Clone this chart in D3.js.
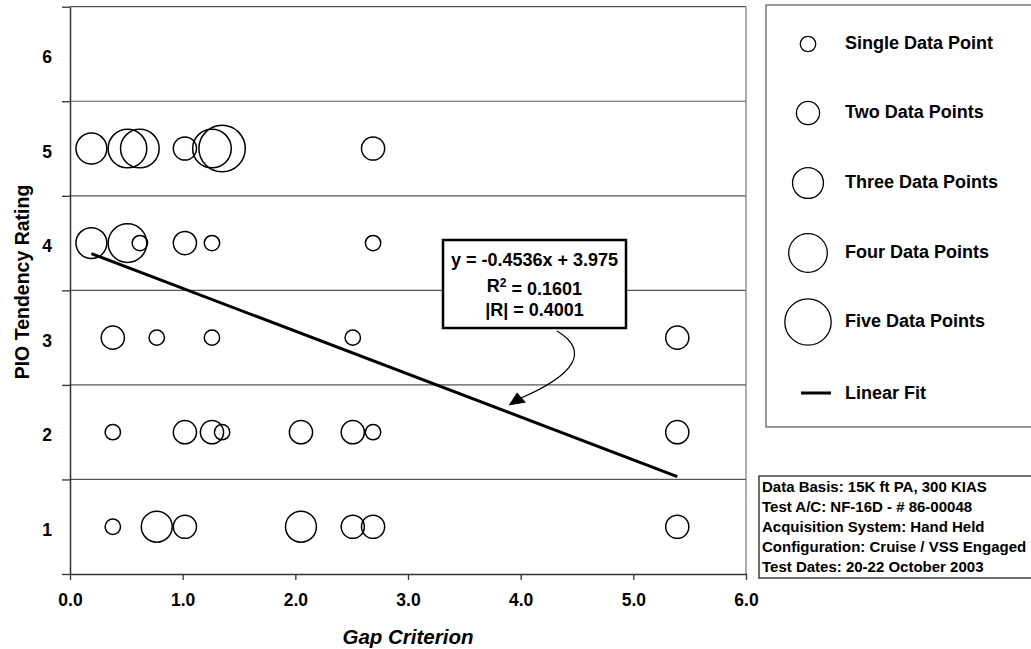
<!DOCTYPE html>
<html>
<head>
<meta charset="utf-8">
<script src="https://cdn.jsdelivr.net/npm/d3@7"></script>
<style>
  html, body { margin: 0; padding: 0; background: #fff; }
  svg { display: block; font-family: "Liberation Sans", Arial, sans-serif; font-weight: bold; }
</style>
</head>
<body>
<svg id="chart" width="1031" height="649"></svg>
<script>
// ---- Data ----
const gapCriterion = [0.19, 0.51, 0.62, 1.02, 1.26, 1.35, 2.69,
                      0.19, 0.51, 0.62, 1.02, 1.26, 2.69,
                      0.38, 0.77, 1.26, 2.51, 5.39,
                      0.38, 1.02, 1.26, 1.35, 2.05, 2.51, 2.69, 5.39,
                      0.38, 0.77, 1.02, 2.05, 2.51, 2.69, 5.39];
const pioRating    = [5, 5, 5, 5, 5, 5, 5,
                      4, 4, 4, 4, 4, 4,
                      3, 3, 3, 3, 3,
                      2, 2, 2, 2, 2, 2, 2, 2,
                      1, 1, 1, 1, 1, 1, 1];
const pointCount   = [3, 4, 4, 2, 4, 5, 2,
                      3, 4, 1, 2, 1, 1,
                      2, 1, 1, 1, 2,
                      1, 2, 2, 1, 2, 2, 1, 2,
                      1, 3, 2, 3, 2, 2, 2];

const fitX = [0.19, 5.39];
const fitY = [3.889, 1.530];

const xTicks = [0, 1, 2, 3, 4, 5, 6];
const yTickLabels = [1, 2, 3, 4, 5, 6];
const yBandEdges = [0.5, 1.5, 2.5, 3.5, 4.5, 5.5, 6.5];

const legendCounts = [1, 2, 3, 4, 5];
const legendLabels = ["Single Data Point", "Two Data Points", "Three Data Points", "Four Data Points", "Five Data Points"];
const fitLabel = "Linear Fit";

const equationLines = ["y = -0.4536x + 3.975", "R2 = 0.1601", "|R| = 0.4001"];
const infoLines = ["Data Basis: 15K ft PA, 300 KIAS",
                   "Test A/C: NF-16D - # 86-00048",
                   "Acquisition System: Hand Held",
                   "Configuration: Cruise / VSS Engaged",
                   "Test Dates: 20-22 October 2003"];

// ---- Chart ----
const svg = d3.select("#chart");
const x = d3.scaleLinear().domain([0, 6]).range([70, 746]);
const y = d3.scaleLinear().domain([0.5, 6.5]).range([574, 6.7]);
const r = d3.scaleLinear().domain([1, 5]).range([7.7, 23.2]);

// band lines + top border
svg.append("g").selectAll("line").data(yBandEdges.slice(1))
  .join("line")
  .attr("x1", x(0)).attr("x2", x(6))
  .attr("y1", d => y(d)).attr("y2", d => y(d))
  .attr("stroke", "#555").attr("stroke-width", 1.2);
// right border
svg.append("line").attr("x1", x(6)).attr("x2", x(6)).attr("y1", y(6.5)).attr("y2", y(0.5))
  .attr("stroke", "#777").attr("stroke-width", 1.2);

// x axis
const xAxis = svg.append("g").attr("transform", `translate(0,${y(0.5)})`)
  .call(d3.axisBottom(x).tickValues(xTicks).tickFormat(d3.format(".1f")).tickSize(6).tickPadding(14).tickSizeOuter(0));
xAxis.select(".domain").attr("stroke", "#333").attr("stroke-width", 1.5);
xAxis.selectAll(".tick line").attr("stroke", "#333").attr("stroke-width", 1.3);
xAxis.selectAll("text").attr("fill", "#000").style("font-size", "17.5px").style("font-weight", "bold")
  .style("font-family", "'Liberation Sans', Arial, sans-serif");

// y axis
const yAxis = svg.append("g").attr("transform", `translate(${x(0)},0)`)
  .call(d3.axisLeft(y).tickValues(yBandEdges).tickFormat("").tickSize(8).tickSizeOuter(0));
yAxis.select(".domain").attr("stroke", "#333").attr("stroke-width", 1.5);
yAxis.selectAll(".tick line").attr("stroke", "#333").attr("stroke-width", 1.3);

svg.append("g").selectAll("text").data(yTickLabels).join("text")
  .attr("x", 52).attr("y", d => y(d) + 3)
  .attr("dy", "0.35em").attr("text-anchor", "end")
  .style("font-size", "17.5px").text(d => d);

// axis titles
svg.append("text").attr("x", (x(0) + x(6)) / 2).attr("y", 637).attr("dy", "0.35em")
  .attr("text-anchor", "middle").style("font-size", "20.5px").style("font-style", "italic")
  .text("Gap Criterion");
svg.append("text").attr("transform", `translate(22,282) rotate(-90)`).attr("dy", "0.35em")
  .attr("text-anchor", "middle").style("font-size", "19.5px")
  .text("PIO Tendency Rating");

// bubbles
const pts = gapCriterion.map((g, i) => ({ g, p: pioRating[i], n: pointCount[i] }));
svg.append("g").selectAll("circle").data(pts).join("circle")
  .attr("cx", d => x(d.g)).attr("cy", d => y(d.p)).attr("r", d => r(d.n))
  .attr("fill", "none").attr("stroke", "#000").attr("stroke-width", 1.5);

// fit line
svg.append("line")
  .attr("x1", x(fitX[0])).attr("y1", y(fitY[0]))
  .attr("x2", x(fitX[1])).attr("y2", y(fitY[1]))
  .attr("stroke", "#000").attr("stroke-width", 3);

// callout arrow
svg.append("path").attr("d", "M557,331 C592,352 572,376 521,398")
  .attr("fill", "none").attr("stroke", "#000").attr("stroke-width", 1.2);
svg.append("path").attr("d", "M508.5,405.5 L517,392.5 L526,402.5 Z").attr("fill", "#000");

// callout box
svg.append("rect").attr("x", 443).attr("y", 240).attr("width", 183).attr("height", 88)
  .attr("fill", "#fff").attr("stroke", "#000").attr("stroke-width", 2.5);
const eq = svg.append("g").style("font-size", "18px").attr("text-anchor", "middle");
eq.append("text").attr("x", 534.5).attr("y", 260).attr("dy", "0.35em").text(equationLines[0]);
const r2 = eq.append("text").attr("x", 534.5).attr("y", 286).attr("dy", "0.35em");
r2.append("tspan").text("R");
r2.append("tspan").attr("dy", "-0.45em").style("font-size", "12px").text("2");
r2.append("tspan").attr("dy", "0.45em").text(" = 0.1601");
eq.append("text").attr("x", 534.5).attr("y", 310).attr("dy", "0.35em").text(equationLines[2]);

// legend box
svg.append("rect").attr("x", 766).attr("y", 5).attr("width", 280).attr("height", 422)
  .attr("fill", "#fff").attr("stroke", "#555").attr("stroke-width", 1.2);
const legY = [44, 113, 183, 253, 322];
const lg = svg.append("g");
lg.selectAll("circle").data(legendCounts).join("circle")
  .attr("cx", 808).attr("cy", (d, i) => legY[i]).attr("r", d => r(d))
  .attr("fill", "none").attr("stroke", "#000").attr("stroke-width", 1.3);
lg.selectAll("text.l").data(legendLabels).join("text").attr("class", "l")
  .attr("x", 845).attr("y", (d, i) => legY[i] - 1).attr("dy", "0.35em")
  .style("font-size", "18px").text(d => d);
lg.append("line").attr("x1", 801).attr("x2", 831).attr("y1", 393).attr("y2", 393)
  .attr("stroke", "#000").attr("stroke-width", 3);
lg.append("text").attr("x", 845).attr("y", 393).attr("dy", "0.35em")
  .style("font-size", "18px").text(fitLabel);

// info box
svg.append("rect").attr("x", 759).attr("y", 476).attr("width", 290).attr("height", 102)
  .attr("fill", "#fff").attr("stroke", "#222").attr("stroke-width", 1.3);
svg.append("g").selectAll("text").data(infoLines).join("text")
  .attr("x", 762).attr("y", (d, i) => 487 + i * 20).attr("dy", "0.35em")
  .style("font-size", "15px").text(d => d);
</script>
</body>
</html>
